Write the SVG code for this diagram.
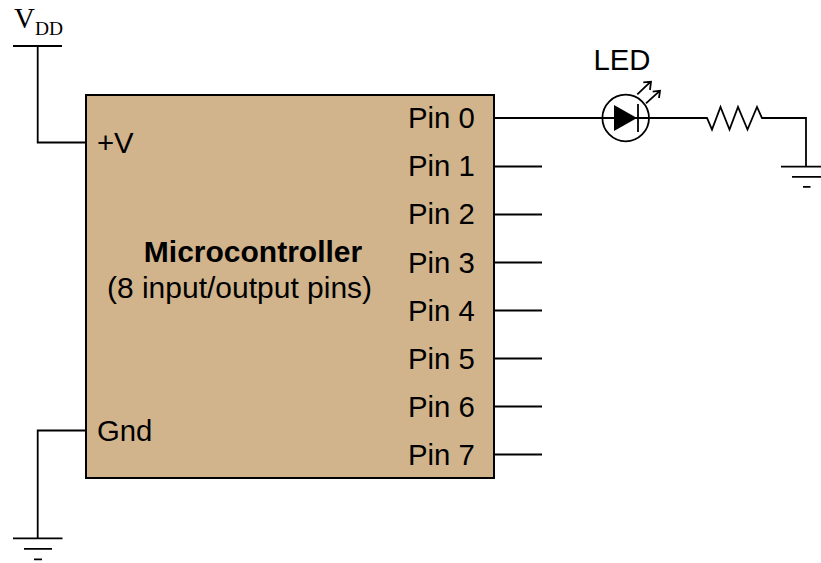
<svg xmlns="http://www.w3.org/2000/svg" width="821" height="563" viewBox="0 0 821 563">
<style>
.w{fill:none;stroke:#000;stroke-width:1.8}
.t{font-family:"Liberation Sans",Arial,sans-serif;font-size:29.3px;fill:#000}
.c{font-size:30px}
.s{font-family:"Liberation Serif","Times New Roman",serif;fill:#000}
</style>
<rect width="821" height="563" fill="#fff"/>
<g id="connectors" class="w">
<path d="M13 46H62M37.700 46V142.500H86"/>
<path d="M86 430.500H37.700V538M13 538.300H62.500M24 548.800H52M34 559.300H42"/>
<path d="M494 118H603M649 118H707L712 129.500L720.500 107L729.500 129.500L738 107L747.500 129.500L757 107L762 118H806V166.500M781 166.700H831M792 176.800H831M803 186.800H810.500"/>
<path d="M494 166.500H542M494 214.500H542M494 262.500H542M494 310.500H542M494 358.500H542M494 406.500H542M494 454.500H542"/>
</g>
<g id="vdd"><text class="s" x="14" y="27.500" font-size="29">V</text><text class="s" x="35" y="34.500" font-size="19.400">DD</text></g>
<g id="microcontroller">
<rect x="86" y="95" width="408" height="383" fill="#d2b48c" stroke="#000" stroke-width="2"/>
<text class="t" x="97" y="153">+V</text>
<text class="t" x="97" y="441">Gnd</text>
<text class="t c" x="253" y="262" text-anchor="middle" font-weight="bold">Microcontroller</text>
<text class="t c" x="239.500" y="298" text-anchor="middle">(8 input/output pins)</text>
<text class="t" x="408" y="128">Pin 0</text>
<text class="t" x="408" y="176">Pin 1</text>
<text class="t" x="408" y="224">Pin 2</text>
<text class="t" x="408" y="273">Pin 3</text>
<text class="t" x="408" y="321">Pin 4</text>
<text class="t" x="408" y="369">Pin 5</text>
<text class="t" x="408" y="417">Pin 6</text>
<text class="t" x="408" y="465">Pin 7</text>
</g>
<g id="led">
<text class="t" x="622" y="70" text-anchor="middle">LED</text>
<circle cx="625.700" cy="118" r="23.300" fill="#fff" stroke="#000" stroke-width="1.800"/>
<path d="M602.400 118H649" class="w"/>
<path d="M614 105V131L637 118Z" fill="#000"/>
<path d="M638 104V132" class="w"/>
<path d="M637.300 94.300L650.700 81.700M643.300 82.300L651 81.700L650 90M646 103.300L660 90.700M652.700 91.700L660 90.700L659 98" class="w"/>
</g>
</svg>
